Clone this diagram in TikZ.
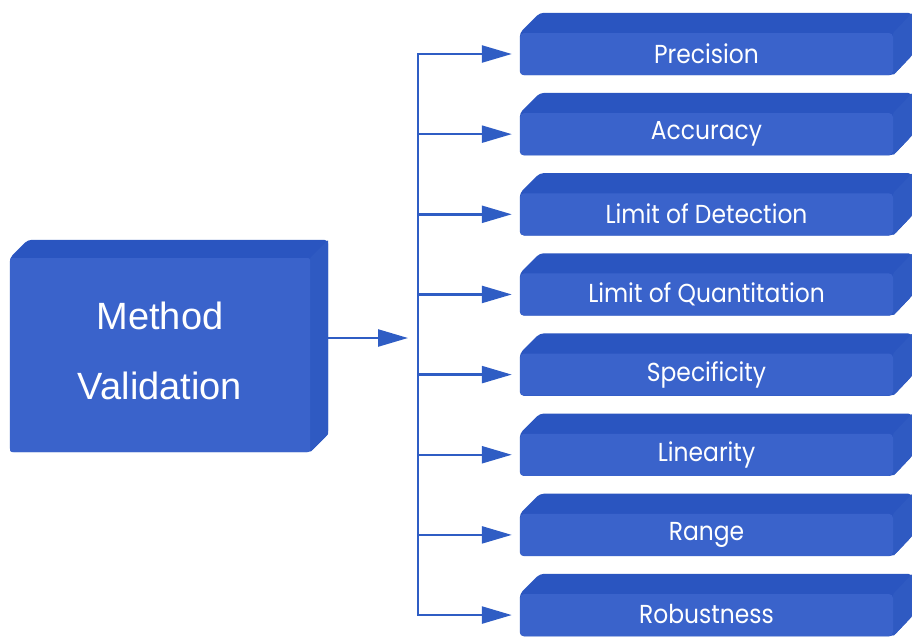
\documentclass[tikz,border=0pt]{standalone}
\usepackage{fontspec}
\setmainfont{Liberation Sans}
\newfontfamily\boxfont[FakeStretch=0.9]{Poppins}
\usetikzlibrary{arrows.meta,backgrounds,calc}
\definecolor{frontc}{HTML}{3A63CB}
\definecolor{topc}{HTML}{2A55C0}
\definecolor{sidec}{HTML}{2F5AC2}
\definecolor{arrc}{HTML}{2F5DC4}
\begin{document}
\begin{tikzpicture}[x=1pt,y=-1pt,
  frontbox/.style={fill=frontc, inner sep=0pt, text=white, rounded corners=4pt},
  smallfront/.style={frontbox, minimum width=373pt, minimum height=42pt,
    font=\boxfont\fontsize{26}{30}\selectfont},
  bigfront/.style={frontbox, minimum width=300pt, minimum height=194pt, align=center,
    font=\fontsize{38}{70}\selectfont, rounded corners=2pt},
  topface/.style={fill=topc, rounded corners=4pt},
  sideface/.style={fill=sidec, rounded corners=4pt},
  arr/.style={draw=arrc, line width=2.4pt, -{Triangle[length=30pt,width=17pt]}},
  trunk/.style={draw=arrc, line width=2.4pt}
]
\useasboundingbox (0,0) rectangle (912,637);

% big box
\node[bigfront] (mv) at (160,355) {\raisebox{9pt}{Method}\\\raisebox{9pt}{Validation}};
\begin{pgfonlayer}{background}
  \path[topface] (mv.north west) -- ++(18,-18) -- ($(mv.north east)+(18,-18)$) -- ($(mv.south east)+(18,-18)$) -- (mv.south east) -- (mv.south west) -- cycle;
  \path[sideface, rounded corners=1pt] (mv.north east) -- ++(18,-18) -- ($(mv.south east)+(18,-18)$) -- (mv.south east) -- cycle;
\end{pgfonlayer}

% small boxes
\foreach \t [count=\i from 0] in {Precision,Accuracy,Limit of Detection,Limit of Quantitation,Specificity,Linearity,Range,Robustness}{
  \pgfmathsetmacro\yy{54+80.15*\i}
  \node[smallfront] (b\i) at (706.5,\yy) {\raisebox{1.5pt}{\t}};
  \begin{pgfonlayer}{background}
    \path[topface] (b\i.north west) -- ++(20,-20) -- ($(b\i.north east)+(19,-20)$) -- ($(b\i.south east)+(19,-20)$) -- (b\i.south east) -- (b\i.south west) -- cycle;
    \path[sideface, rounded corners=1pt] (b\i.north east) -- ++(19,-20) -- ($(b\i.south east)+(19,-20)$) -- (b\i.south east) -- cycle;
  \end{pgfonlayer}
}

% connectors
\coordinate (mvout) at ($(mv.east)+(18,-17)$);
\coordinate (tt) at (418,54);
\coordinate (tb) at (418,615.05);
\coordinate (tin) at (408,338);
\draw[arr] (mvout) -- (tin);
\draw[trunk, line cap=rect] (tt) -- (tb);
\foreach \i in {0,...,7}{
  \draw[arr, shorten >=8pt] (b\i.west -| tt) -- (b\i.west);
}
\end{tikzpicture}
\end{document}
